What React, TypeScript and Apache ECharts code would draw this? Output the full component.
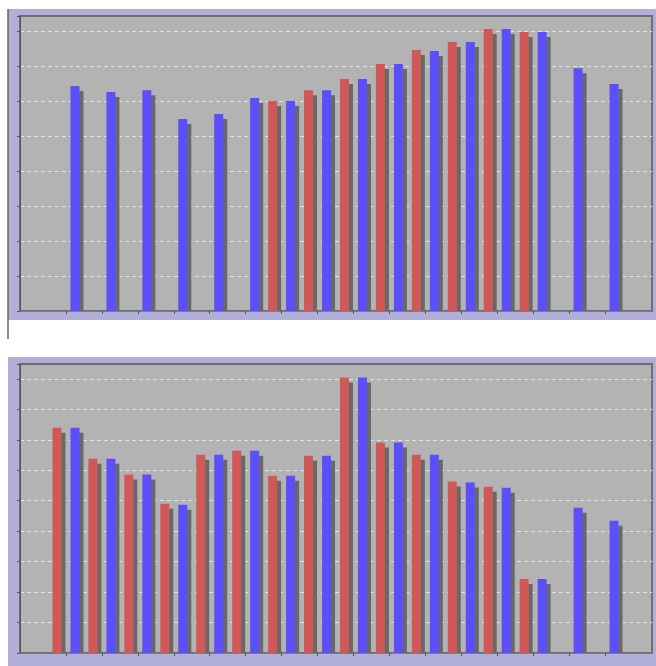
import React, { useEffect, useRef } from "react";
import * as echarts from "echarts";

const categories = ["1", "2", "3", "4", "5", "6", "7", "8", "9", "10", "11", "12", "13", "14", "15", "16"];

const topRed = [null, null, null, null, null, null, 6.0, 6.31, 6.63, 7.06, 7.46, 7.69, 8.06, 7.97, null, null];
const topBlue = [6.43, 6.26, 6.31, 5.49, 5.63, 6.09, 6.0, 6.31, 6.63, 7.06, 7.43, 7.69, 8.06, 7.97, 6.94, 6.49];

const bottomRed = [7.4, 6.38, 5.86, 4.9, 6.51, 6.64, 5.82, 6.48, 9.05, 6.91, 6.51, 5.63, 5.46, 2.43, null, null];
const bottomBlue = [7.4, 6.38, 5.86, 4.87, 6.51, 6.64, 5.82, 6.48, 9.05, 6.91, 6.51, 5.6, 5.43, 2.43, 4.77, 4.34];

const topMax = 8.43;
const bottomMax = 9.49;

const RED = "#d25858";
const BLUE = "#5a50fb";
const PLOT_BG = "#b3b3b3";
const PANEL = "#b1aed8";
const DARK = "#6e6e6e";

export default function App() {
  const ref = useRef<HTMLDivElement>(null);
  useEffect(() => {
    document.body.style.margin = "0";
    if (!ref.current) return;
    const chart = echarts.init(ref.current, null, { renderer: "svg" });

    const bgGrid = (top: number, height: number) => ({
      left: 20,
      right: 4,
      top,
      height,
      show: true,
      backgroundColor: PLOT_BG,
      borderColor: DARK,
      borderWidth: 2,
    });
    const dataGrid = (top: number, height: number) => ({
      left: 48,
      width: 575,
      top,
      height,
      show: false,
    });

    const bgX = (gridIndex: number) => ({
      type: "value",
      gridIndex,
      min: 0,
      max: 1,
      offset: 5,
      z: 10,
      axisLine: { show: true, lineStyle: { color: "#7c7a98", width: 1 } },
      axisTick: { show: false },
      axisLabel: { show: false },
      splitLine: { show: false },
    });
    const dataX = (gridIndex: number) => ({
      type: "category",
      gridIndex,
      data: categories,
      boundaryGap: true,
      offset: 5,
      z: 10,
      axisLine: { show: false },
      axisTick: { show: true, alignWithLabel: true, length: 3, lineStyle: { color: "#555" } },
      axisLabel: { show: false },
      splitLine: { show: false },
    });
    const bgY = (gridIndex: number, max: number) => ({
      type: "value",
      gridIndex,
      min: 0,
      max,
      interval: 1,
      offset: 6,
      axisLine: { show: true, lineStyle: { color: "#555", width: 1 } },
      axisTick: { show: true, length: 3, lineStyle: { color: "#555" } },
      axisLabel: { show: false },
      splitLine: {
        show: true,
        showMinLine: false,
        showMaxLine: false,
        lineStyle: { color: "#e2e2e2", type: [4, 3], width: 1 },
      },
    });
    const dataY = (gridIndex: number, max: number) => ({
      type: "value",
      gridIndex,
      min: 0,
      max,
      interval: 1,
      show: false,
      splitLine: { show: false },
    });

    const barStyle = (color: string) => ({
      color,
      shadowColor: "#676767",
      shadowBlur: 0,
      shadowOffsetX: 4,
      shadowOffsetY: 5,
    });

    const bar = (name: string, data: (number | null)[], color: string, axis: number) => ({
      type: "bar",
      name,
      xAxisIndex: axis,
      yAxisIndex: axis,
      data,
      barWidth: 9,
      barGap: "100%",
      itemStyle: barStyle(color),
      emphasis: { disabled: true },
    });

    chart.setOption({
      animation: false,
      tooltip: { show: false },
      graphic: [
        { type: "rect", z: -10, shape: { x: 8, y: 9, width: 648, height: 311 }, style: { fill: PANEL } },
        { type: "rect", z: -10, shape: { x: 8, y: 357, width: 648, height: 309 }, style: { fill: PANEL } },
        { type: "line", z: -5, shape: { x1: 8, y1: 9, x2: 8, y2: 339 }, style: { stroke: "#666", lineWidth: 1.5 } },
        // covers that hide the bar shadows below the plot areas
        { type: "rect", z: 5, shape: { x: 9, y: 312, width: 647, height: 8 }, style: { fill: PANEL } },
        { type: "rect", z: 5, shape: { x: 8, y: 654, width: 648, height: 12 }, style: { fill: PANEL } },
      ],
      grid: [bgGrid(16, 295), dataGrid(16, 295), bgGrid(364, 289), dataGrid(364, 289)],
      xAxis: [bgX(0), dataX(1), bgX(2), dataX(3)],
      yAxis: [bgY(0, topMax), dataY(1, topMax), bgY(2, bottomMax), dataY(3, bottomMax)],
      series: [
        bar("Top red", topRed, RED, 1),
        bar("Top blue", topBlue, BLUE, 1),
        bar("Bottom red", bottomRed, RED, 3),
        bar("Bottom blue", bottomBlue, BLUE, 3),
      ],
    });
    return () => chart.dispose();
  }, []);
  return <div ref={ref} style={{ width: 656, height: 666 }} />;
}
